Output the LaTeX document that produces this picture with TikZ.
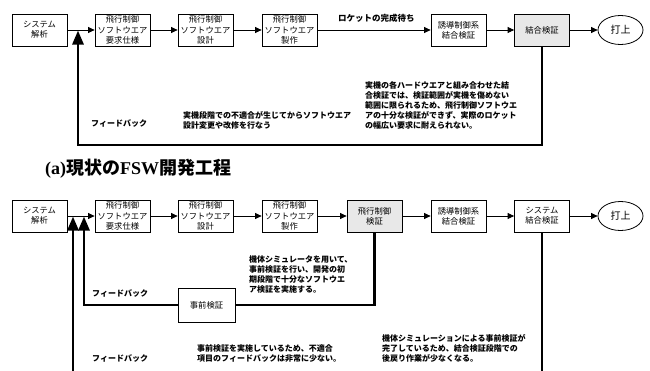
\documentclass[tikz,border=0pt]{standalone}
\usepackage{fontspec}
\setmainfont{Noto Sans CJK JP}
\newfontfamily\serifL{Liberation Serif}
\usetikzlibrary{arrows.meta,shapes.geometric,calc}
\tikzset{
  proc/.style={draw=black, line width=0.8pt, fill=white, minimum width=55pt, minimum height=32pt,
    inner sep=1pt, align=center, font=\fontsize{8.3}{10.2}\selectfont},
  shade/.style={proc, fill=gray!18},
  launch/.style={draw=black, line width=0.8pt, ellipse, minimum width=45pt, minimum height=29pt,
    inner sep=0pt, font=\fontsize{10}{12}\selectfont},
  flow/.style={line width=0.8pt, -{Triangle[length=6.5pt,width=6pt]}},
  fb/.style={line width=2.8pt, -{Triangle[length=14pt,width=11pt]}},
  note/.style={anchor=west, align=left, inner sep=0pt, font=\fontsize{8}{10}\bfseries\selectfont},
  fbtext/.style={anchor=west, inner sep=0pt, font=\fontsize{8}{10}\bfseries\selectfont},
}
\begin{document}
\begin{tikzpicture}[x=1pt,y=-1pt]
\clip (0,0) rectangle (650,370);
\fill[white] (0,0) rectangle (650,370);
% ---- top row (a)
\node[proc] (A1) at (39.5,30) {システム\\解析};
\node[proc] (A2) at (122.5,30) {飛行制御\\ソフトウエア\\要求仕様};
\node[proc] (A3) at (205.5,30) {飛行制御\\ソフトウエア\\設計};
\node[proc] (A4) at (289.5,30) {飛行制御\\ソフトウエア\\製作};
\node[proc] (A5) at (458.5,30) {誘導制御系\\結合検証};
\node[shade] (A6) at (542,30) {結合検証};
\node[launch] (A7) at (620.5,30) {打上};
\draw[flow] (A1) -- (A2);
\draw[flow] (A2) -- (A3);
\draw[flow] (A3) -- (A4);
\draw[flow] (A4) -- (A5);
\draw[flow] (A5) -- (A6);
\draw[flow] (A6) -- (A7);
\node[fbtext, font=\fontsize{8.5}{10}\bfseries\selectfont] (wait) at (338,18) {ロケットの完成待ち};
\coordinate (fa) at (78,30.5);
\draw[fb] (A6.south) -- (A6.south |- 0,145) -| (fa);
\node[fbtext] (fbA) at (91,123) {フィードバック};
\node[note] (nA1) at (183,120) {実機段階での不適合が生じてからソフトウエア\\設計変更や改修を行なう};
\node[note] (nA2) at (365,105) {実機の各ハードウエアと組み合わせた結\\合検証では、検証範囲が実機を傷めない\\範囲に限られるため、飛行制御ソフトウエ\\アの十分な検証ができず、実際のロケット\\の幅広い要求に耐えられない。};
\node[anchor=west, inner sep=0pt, font=\fontsize{18}{20}\bfseries\selectfont] (capA) at (45,169) {{\serifL\bfseries (a)}現状の{\serifL\bfseries FSW}開発工程};
% ---- bottom row (b)
\node[proc] (B1) at (39.5,216) {システム\\解析};
\node[proc] (B2) at (122.5,216) {飛行制御\\ソフトウエア\\要求仕様};
\node[proc] (B3) at (205.5,216) {飛行制御\\ソフトウエア\\設計};
\node[proc] (B4) at (289.5,216) {飛行制御\\ソフトウエア\\製作};
\node[shade] (B5) at (374.5,216) {飛行制御\\検証};
\node[proc] (B6) at (458.5,216) {誘導制御系\\結合検証};
\node[proc] (B7) at (542,216) {システム\\結合検証};
\node[launch] (B8) at (620.5,216) {打上};
\draw[flow] (B1) -- (B2);
\draw[flow] (B2) -- (B3);
\draw[flow] (B3) -- (B4);
\draw[flow] (B4) -- (B5);
\draw[flow] (B5) -- (B6);
\draw[flow] (B6) -- (B7);
\draw[flow] (B7) -- (B8);
\coordinate (fb1) at (84,216.5);
\coordinate (fb2) at (73,216.5);
\draw[fb] (B5.south) -- (B5.south |- 0,305) -| (fb1);
\draw[fb] (B7.south) -- (B7.south |- 0,385) -| (fb2);
\node[proc, minimum width=57pt, minimum height=34pt] (pre) at (206.5,305) {事前検証};
\node[fbtext] (fbB1) at (92,293) {フィードバック};
\node[fbtext] (fbB2) at (92,358) {フィードバック};
\node[note] (nB1) at (249,274) {機体シミュレータを用いて、\\事前検証を行い、開発の初\\期段階で十分なソフトウエ\\ア検証を実施する。};
\node[note] (nB2) at (197,353) {事前検証を実施しているため、不適合\\項目のフィードバックは非常に少ない。};
\node[note] (nB3) at (382,348) {機体シミュレーションによる事前検証が\\完了しているため、結合検証段階での\\後戻り作業が少なくなる。};
\end{tikzpicture}
\end{document}
